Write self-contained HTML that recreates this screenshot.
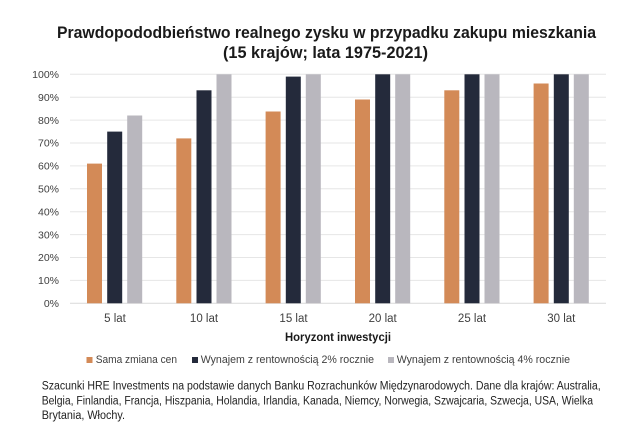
<!DOCTYPE html>
<html>
<head>
<meta charset="utf-8">
<style>
html,body{margin:0;padding:0;background:#fff;}
svg{display:block;}
text{font-family:"Liberation Sans",sans-serif;}
</style>
</head>
<body>
<svg width="640" height="431" viewBox="0 0 640 431" xmlns="http://www.w3.org/2000/svg">
<rect width="640" height="431" fill="#fff"/>
<!-- Title -->
<text x="57" y="38" font-size="17" font-weight="bold" fill="#1a1a1a" textLength="539" lengthAdjust="spacingAndGlyphs">Prawdopododbieństwo realnego zysku w przypadku zakupu mieszkania</text>
<text x="223" y="58" font-size="17" font-weight="bold" fill="#1a1a1a" textLength="205" lengthAdjust="spacingAndGlyphs">(15 krajów; lata 1975-2021)</text>

<!-- Gridlines -->
<g stroke="#e6e6e6" stroke-width="1">
<line x1="70" x2="606" y1="74.3" y2="74.3"/>
<line x1="70" x2="606" y1="97.2" y2="97.2"/>
<line x1="70" x2="606" y1="120.1" y2="120.1"/>
<line x1="70" x2="606" y1="143.0" y2="143.0"/>
<line x1="70" x2="606" y1="165.9" y2="165.9"/>
<line x1="70" x2="606" y1="188.8" y2="188.8"/>
<line x1="70" x2="606" y1="211.7" y2="211.7"/>
<line x1="70" x2="606" y1="234.6" y2="234.6"/>
<line x1="70" x2="606" y1="257.5" y2="257.5"/>
<line x1="70" x2="606" y1="280.4" y2="280.4"/>
</g>
<line x1="70" x2="606" y1="303.3" y2="303.3" stroke="#d9d9d9" stroke-width="1"/>

<!-- Y labels -->
<g font-size="10.5" fill="#404040" text-anchor="end">
<text x="59" y="78">100%</text>
<text x="59" y="100.9">90%</text>
<text x="59" y="123.8">80%</text>
<text x="59" y="146.7">70%</text>
<text x="59" y="169.6">60%</text>
<text x="59" y="192.5">50%</text>
<text x="59" y="215.4">40%</text>
<text x="59" y="238.3">30%</text>
<text x="59" y="261.2">20%</text>
<text x="59" y="284.1">10%</text>
<text x="59" y="307">0%</text>
</g>

<!-- Bars: y = 303.3 - v*2.29 -->
<g fill="#D38A57">
<rect x="87" y="163.6" width="15" height="139.7"/>
<rect x="176.3" y="138.4" width="15" height="164.9"/>
<rect x="265.6" y="111.5" width="15" height="191.8"/>
<rect x="355" y="99.5" width="15" height="203.8"/>
<rect x="444.3" y="90.3" width="15" height="213"/>
<rect x="533.6" y="83.5" width="15" height="219.8"/>
</g>
<g fill="#242A3B">
<rect x="107.2" y="131.6" width="15" height="171.7"/>
<rect x="196.5" y="90.3" width="15" height="213"/>
<rect x="285.8" y="76.6" width="15" height="226.7"/>
<rect x="375.2" y="74.3" width="15" height="229"/>
<rect x="464.5" y="74.3" width="15" height="229"/>
<rect x="553.8" y="74.3" width="15" height="229"/>
</g>
<g fill="#B9B7BE">
<rect x="127.2" y="115.5" width="15" height="187.8"/>
<rect x="216.5" y="74.3" width="15" height="229"/>
<rect x="305.8" y="74.3" width="15" height="229"/>
<rect x="395.2" y="74.3" width="15" height="229"/>
<rect x="484.5" y="74.3" width="15" height="229"/>
<rect x="573.8" y="74.3" width="15" height="229"/>
</g>

<!-- Category labels -->
<g font-size="11.5" fill="#404040" text-anchor="middle">
<text x="115" y="322">5 lat</text>
<text x="204" y="322">10 lat</text>
<text x="293.5" y="322">15 lat</text>
<text x="382.7" y="322">20 lat</text>
<text x="472" y="322">25 lat</text>
<text x="561.3" y="322">30 lat</text>
</g>

<!-- Axis title -->
<text x="285" y="341" font-size="12" font-weight="bold" fill="#1a1a1a" textLength="106" lengthAdjust="spacingAndGlyphs">Horyzont inwestycji</text>

<!-- Legend -->
<rect x="86.5" y="357" width="6" height="6" fill="#D38A57"/>
<text x="95.7" y="363" font-size="11" fill="#404040" textLength="81.3" lengthAdjust="spacingAndGlyphs">Sama zmiana cen</text>
<rect x="192" y="357" width="6" height="6" fill="#242A3B"/>
<text x="200.7" y="363" font-size="11" fill="#404040" textLength="173.3" lengthAdjust="spacingAndGlyphs">Wynajem z rentownością 2% rocznie</text>
<rect x="388" y="357" width="6" height="6" fill="#B9B7BE"/>
<text x="396.7" y="363" font-size="11" fill="#404040" textLength="173.3" lengthAdjust="spacingAndGlyphs">Wynajem z rentownością 4% rocznie</text>

<!-- Footnote -->
<g font-size="11.5" fill="#222">
<text x="41.7" y="389.3" textLength="559" lengthAdjust="spacingAndGlyphs">Szacunki HRE Investments na podstawie danych Banku Rozrachunków Międzynarodowych. Dane dla krajów: Australia,</text>
<text x="41.7" y="404.3" textLength="551.3" lengthAdjust="spacingAndGlyphs">Belgia, Finlandia, Francja, Hiszpania, Holandia, Irlandia, Kanada, Niemcy, Norwegia, Szwajcaria, Szwecja, USA, Wielka</text>
<text x="41.7" y="419" textLength="83.3" lengthAdjust="spacingAndGlyphs">Brytania, Włochy.</text>
</g>
</svg>
</body>
</html>
